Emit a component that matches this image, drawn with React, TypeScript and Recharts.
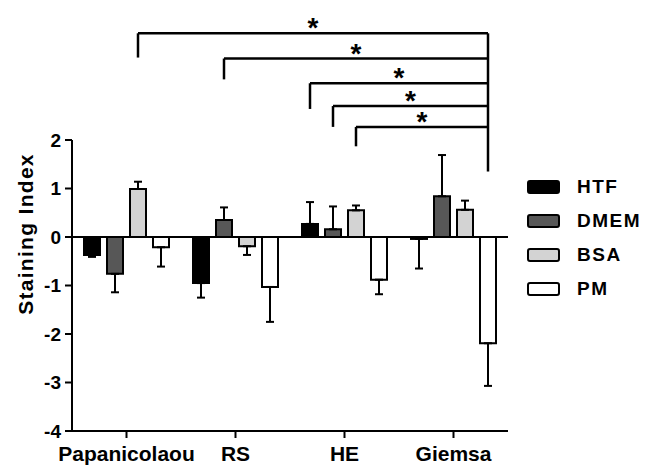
import React from 'react';
import { BarChart, Bar, XAxis, YAxis, ErrorBar, ReferenceLine, Legend } from 'recharts';

const categories = ['Papanicolaou', 'RS', 'HE', 'Giemsa'];
const seriesNames = ['HTF', 'DMEM', 'BSA', 'PM'];
const seriesColors = ['#000000', '#575757', '#d3d3d3', '#ffffff'];

const htfValues = [-0.37, -0.95, 0.27, -0.04];
const htfErrors = [0.04, 0.3, 0.45, 0.61];
const dmemValues = [-0.76, 0.35, 0.16, 0.84];
const dmemErrors = [0.38, 0.26, 0.47, 0.85];
const bsaValues = [0.99, -0.19, 0.55, 0.56];
const bsaErrors = [0.15, 0.18, 0.1, 0.19];
const pmValues = [-0.21, -1.03, -0.88, -2.19];
const pmErrors = [0.4, 0.72, 0.3, 0.88];

const yTicks = [-4, -3, -2, -1, 0, 1, 2];

// significance brackets (all end at Giemsa / PM)
const bracketFrom: [string, string][] = [
  ['Papanicolaou', 'BSA'],
  ['RS', 'DMEM'],
  ['HE', 'HTF'],
  ['HE', 'DMEM'],
  ['HE', 'BSA'],
];
const bracketTo: [string, string] = ['Giemsa', 'PM'];
const bracketLevels = [4.2, 3.68, 3.17, 2.7, 2.27];
const bracketLegEnds = [3.7, 3.25, 2.64, 2.27, 1.87];
const bracketRightEnd = 1.35;
const bracketMark = '*';

const valueSets = [htfValues, dmemValues, bsaValues, pmValues];
const errorSets = [htfErrors, dmemErrors, bsaErrors, pmErrors];

const data = categories.map((c, i) => {
  const row: any = { category: c, slot: i + 0.5 };
  seriesNames.forEach((s, k) => {
    const v = valueSets[k][i];
    const e = errorSets[k][i];
    row[s] = v;
    row[s + '_err'] = v >= 0 ? [0, e] : [e, 0];
  });
  return row;
});

const FONT = '"Liberation Sans", Arial, Helvetica, sans-serif';
const W = 648;
const H = 465;
const MARGIN = { top: 140, right: 140, bottom: 4, left: 0 };
const YAXIS_W = 72;
const LEGEND_W = 120;
const BAR_SIZE = 16;
const BAR_GAP = 7;

const PLOT_LEFT = MARGIN.left + YAXIS_W;
const PLOT_RIGHT = W - MARGIN.right;
const BAND = (PLOT_RIGHT - PLOT_LEFT) / categories.length;
const N = seriesNames.length;
const GROUP_OFFSET = Math.floor((BAND - (N * BAR_SIZE + (N - 1) * BAR_GAP)) / 2);

const barCenter = (cat: string, ser: string) => {
  const ci = categories.indexOf(cat);
  const si = seriesNames.indexOf(ser);
  return ci + (GROUP_OFFSET + BAR_SIZE / 2 + si * (BAR_SIZE + BAR_GAP)) / BAND;
};

const StarLabel = (props: any) => {
  const vb = props.viewBox || {};
  return (
    <text
      x={vb.x + vb.width / 2}
      y={vb.y + 4}
      textAnchor="middle"
      fontSize={28}
      fontWeight="bold"
      fontFamily={FONT}
      fill="#000"
    >
      {bracketMark}
    </text>
  );
};

const YLabel = () => (
  <text
    transform="translate(25,234) rotate(-90)"
    textAnchor="middle"
    dominantBaseline="central"
    fontSize={21}
    fontWeight="bold"
    letterSpacing={1.3}
    fontFamily={FONT}
    fill="#000"
  >
    Staining Index
  </text>
);

const LegendContent = (props: any) => {
  const payload = props.payload || [];
  const ordered = seriesNames
    .map((name) => payload.find((p: any) => p.value === name))
    .filter(Boolean);
  return (
    <div style={{ fontFamily: FONT }}>
      {ordered.map((e: any, i: number) => (
        <div key={i} style={{ display: 'flex', alignItems: 'center', height: 34 }}>
          <div
            style={{
              width: 29,
              height: 10,
              border: '2px solid #000',
              borderRadius: 3,
              background: e.color,
            }}
          />
          <span
            style={{
              marginLeft: 17,
              fontSize: 19,
              fontWeight: 'bold',
              letterSpacing: 1.5,
              color: '#000',
            }}
          >
            {e.value}
          </span>
        </div>
      ))}
    </div>
  );
};

export default function App() {
  const rightX = barCenter(bracketTo[0], bracketTo[1]);
  const bracketEls: any[] = [];
  bracketFrom.forEach(([cat, ser], i) => {
    const lx = barCenter(cat, ser);
    bracketEls.push(
      <ReferenceLine
        key={'h' + i}
        xAxisId="n"
        ifOverflow="visible"
        segment={[
          { x: lx, y: bracketLevels[i] },
          { x: rightX, y: bracketLevels[i] },
        ]}
        stroke="#000"
        strokeWidth={2.5}
        label={StarLabel}
      />
    );
    bracketEls.push(
      <ReferenceLine
        key={'v' + i}
        xAxisId="n"
        ifOverflow="visible"
        segment={[
          { x: lx, y: bracketLevels[i] },
          { x: lx, y: bracketLegEnds[i] },
        ]}
        stroke="#000"
        strokeWidth={2.5}
      />
    );
  });
  bracketEls.push(
    <ReferenceLine
      key="right"
      xAxisId="n"
      ifOverflow="visible"
      segment={[
        { x: rightX, y: bracketLevels[0] },
        { x: rightX, y: bracketRightEnd },
      ]}
      stroke="#000"
      strokeWidth={2.5}
    />
  );

  return (
    <div style={{ position: 'absolute', left: 0, top: 0, background: '#fff' }}>
      <BarChart
        width={W}
        height={H}
        data={data}
        margin={MARGIN}
        barGap={BAR_GAP}
        style={{ fontFamily: FONT }}
      >
        <XAxis
          dataKey="category"
          interval={0}
          tickSize={7}
          tickMargin={8}
          axisLine={{ stroke: '#000', strokeWidth: 2 }}
          tickLine={{ stroke: '#000', strokeWidth: 2 }}
          tick={{ fill: '#000', fontSize: 21, fontWeight: 'bold', fontFamily: FONT }}
        />
        <XAxis
          xAxisId="n"
          dataKey="slot"
          type="number"
          domain={[0, categories.length]}
          allowDataOverflow
          hide
        />
        <YAxis
          width={YAXIS_W}
          domain={[-4, 2]}
          ticks={yTicks}
          interval={0}
          allowDataOverflow
          tickSize={7}
          tickMargin={4}
          axisLine={{ stroke: '#000', strokeWidth: 2 }}
          tickLine={{ stroke: '#000', strokeWidth: 2 }}
          tick={{ fill: '#000', fontSize: 19, fontWeight: 'bold', fontFamily: FONT }}
          label={YLabel}
        />
        <Legend
          layout="vertical"
          align="center"
          verticalAlign="middle"
          itemSorter={null as any}
          wrapperStyle={{ left: 527, top: 170, width: LEGEND_W }}
          content={LegendContent}
        />
        {seriesNames.map((s, k) => (
          <Bar
            key={s}
            dataKey={s}
            name={s}
            fill={seriesColors[k]}
            stroke="#000"
            strokeWidth={2}
            barSize={BAR_SIZE}
            isAnimationActive={false}
          >
            <ErrorBar
              dataKey={s + '_err'}
              direction="y"
              width={4}
              stroke="#000"
              strokeWidth={2}
              isAnimationActive={false}
            />
          </Bar>
        ))}
        <ReferenceLine y={0} stroke="#000" strokeWidth={2} />
        {bracketEls}
      </BarChart>
    </div>
  );
}
